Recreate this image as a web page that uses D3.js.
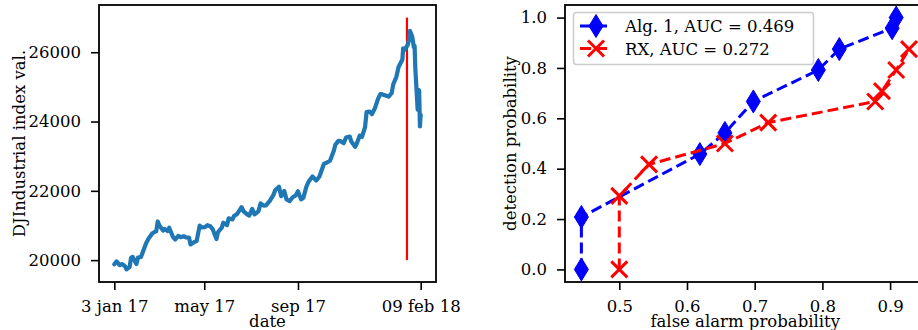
<!DOCTYPE html>
<html>
<head>
<meta charset="utf-8">
<script src="https://cdn.jsdelivr.net/npm/d3@7"></script>
<style>
body { margin: 0; background: #fff; }
text { font-family: "DejaVu Serif", serif; fill: #000; }
</style>
</head>
<body>
<div id="chart"></div>
<script>
//<------ data: left panel (DJI closes) ------>
var djiDates = [
  "2017-01-03","2017-01-06","2017-01-10","2017-01-13","2017-01-17","2017-01-19","2017-01-23","2017-01-25",
  "2017-01-27","2017-01-30","2017-02-01","2017-02-03","2017-02-07","2017-02-10","2017-02-14","2017-02-17",
  "2017-02-22","2017-02-27","2017-03-01","2017-03-03","2017-03-08","2017-03-10","2017-03-14","2017-03-16",
  "2017-03-21","2017-03-24","2017-03-28","2017-03-31","2017-04-04","2017-04-07","2017-04-11","2017-04-13",
  "2017-04-18","2017-04-21","2017-04-25","2017-04-28","2017-05-02","2017-05-05","2017-05-09","2017-05-12",
  "2017-05-17","2017-05-19","2017-05-24","2017-05-26","2017-05-31","2017-06-02","2017-06-07","2017-06-09",
  "2017-06-13","2017-06-19","2017-06-22","2017-06-27","2017-06-29","2017-07-03","2017-07-06","2017-07-11",
  "2017-07-14","2017-07-18","2017-07-21","2017-07-26","2017-07-31","2017-08-02","2017-08-07","2017-08-10",
  "2017-08-14","2017-08-17","2017-08-21","2017-08-25","2017-08-29","2017-09-01","2017-09-05","2017-09-08",
  "2017-09-12","2017-09-15","2017-09-20","2017-09-25","2017-09-29","2017-10-05","2017-10-10","2017-10-13",
  "2017-10-18","2017-10-20","2017-10-24","2017-10-27","2017-10-31","2017-11-03","2017-11-08","2017-11-10",
  "2017-11-15","2017-11-17","2017-11-21","2017-11-24","2017-11-28","2017-11-30","2017-12-04","2017-12-07",
  "2017-12-11","2017-12-15","2017-12-18","2017-12-21","2017-12-26","2017-12-29","2018-01-02","2018-01-04",
  "2018-01-08","2018-01-11","2018-01-16","2018-01-17","2018-01-19","2018-01-23","2018-01-25","2018-01-26",
  "2018-01-29","2018-01-31","2018-02-01","2018-02-02","2018-02-05","2018-02-06","2018-02-07","2018-02-08",
  "2018-02-09"
];
var djiValues = [
  19881, 19964, 19855, 19885, 19826, 19732, 19799, 20068,
  20093, 19971, 19890, 20071, 20090, 20269, 20504, 20624,
  20775, 20837, 21115, 21005, 20855, 20902, 20837, 20934,
  20668, 20596, 20701, 20663, 20689, 20656, 20651, 20453,
  20523, 20548, 20996, 20941, 20950, 21007, 20975, 20896,
  20606, 20804, 20937, 21080, 21009, 21206, 21173, 21272,
  21328, 21528, 21397, 21310, 21287, 21479, 21320, 21409,
  21638, 21574, 21580, 21711, 21891, 22016, 22118, 21844,
  21993, 21750, 21703, 21814, 21865, 21988, 21753, 21797,
  22118, 22268, 22412, 22297, 22405, 22775, 22830, 22871,
  23157, 23329, 23441, 23434, 23377, 23539, 23563, 23422,
  23271, 23358, 23590, 23558, 23836, 24272, 24290, 24212,
  24386, 24652, 24792, 24782, 24746, 24719, 24824, 25075,
  25283, 25574, 25792, 26115, 26071, 26210, 26392, 26616,
  26439, 26149, 26186, 25520, 24345, 24912, 24893, 23860,
  24190
];
var alarmDate = "2018-01-22";
var alarmSpan = [20000, 27000];
var djiTickDates = ["2017-01-03", "2017-05-01", "2017-09-01", "2018-02-09"];
var djiTickLabels = ["3 jan 17", "may 17", "sep 17", "09 feb 18"];
var djiYTicks = [20000, 22000, 24000, 26000];

//<------ data: right panel (ROC) ------>
var algFa = [0.444, 0.444, 0.619, 0.656, 0.698, 0.794, 0.825, 0.903, 0.909];
var algPd = [0.0, 0.208, 0.458, 0.542, 0.667, 0.792, 0.875, 0.958, 1.0];
var rxFa = [0.5, 0.5, 0.544, 0.656, 0.720, 0.878, 0.888, 0.909, 0.928];
var rxPd = [0.0, 0.292, 0.417, 0.5, 0.583, 0.667, 0.708, 0.792, 0.875];
var rocNames = ["Alg. 1, AUC = 0.469", "RX, AUC = 0.272"];
var rocXTicks = [0.5, 0.6, 0.7, 0.8, 0.9];
var rocYTicks = [0.0, 0.2, 0.4, 0.6, 0.8, 1.0];

var W = 918, H = 330;
var fontSize = 16.5;
var parse = d3.timeParse("%Y-%m-%d");

var svg = d3.select("#chart").append("svg")
    .attr("width", W)
    .attr("height", H);

// matplotlib style 5% padding
function pad(ext) {
    var d = ext[1] - ext[0];
    return [ext[0] - 0.05 * d, ext[1] + 0.05 * d];
}

function styleAxis(g) {
    g.select(".domain").remove();
    g.selectAll(".tick line").attr("stroke", "#000").attr("stroke-width", 1.6);
    g.selectAll(".tick text")
        .style("font-family", "DejaVu Serif")
        .style("font-size", fontSize + "px")
        .attr("fill", "#000");
}

//<------ left panel ------>
var L = {left: 99, right: 436, top: 5, bottom: 282};
var djiData = djiDates.map(function(d, i) { return {date: parse(d), value: djiValues[i]}; });

var t0 = d3.extent(djiData, function(d) { return +d.date; });
var tpad = pad(t0);
var x1 = d3.scaleTime()
    .domain([new Date(tpad[0]), new Date(tpad[1])])
    .range([L.left, L.right]);
var y1 = d3.scaleLinear()
    .domain(pad([d3.min(djiValues.concat(alarmSpan)), d3.max(djiValues.concat(alarmSpan))]))
    .range([L.bottom, L.top]);

var left = svg.append("g");

left.append("g")
    .attr("transform", "translate(" + L.left + ",0)")
    .call(d3.axisLeft(y1).tickValues(djiYTicks).tickSize(8).tickPadding(10).tickFormat(d3.format("d")))
    .call(styleAxis);

left.append("g")
    .attr("transform", "translate(0," + L.bottom + ")")
    .call(d3.axisBottom(x1).tickValues(djiTickDates.map(parse)).tickSize(8).tickPadding(10)
        .tickFormat(function(d, i) { return djiTickLabels[i]; }))
    .call(styleAxis);

var line1 = d3.line()
    .x(function(d) { return x1(d.date); })
    .y(function(d) { return y1(d.value); });

left.append("line")
    .attr("x1", x1(parse(alarmDate))).attr("x2", x1(parse(alarmDate)))
    .attr("y1", y1(alarmSpan[0])).attr("y2", y1(alarmSpan[1]))
    .attr("stroke", "#ff0000")
    .attr("stroke-width", 2.2);

left.append("path")
    .datum(djiData)
    .attr("d", line1)
    .attr("fill", "none")
    .attr("stroke", "#1f77b4")
    .attr("stroke-width", 4.2)
    .attr("stroke-linejoin", "round")
    .attr("stroke-linecap", "round");

left.append("rect")
    .attr("x", L.left).attr("y", L.top)
    .attr("width", L.right - L.left).attr("height", L.bottom - L.top)
    .attr("fill", "none").attr("stroke", "#000").attr("stroke-width", 1.8);

left.append("text")
    .attr("x", (L.left + L.right) / 2)
    .attr("y", 327)
    .attr("text-anchor", "middle")
    .style("font-size", fontSize + "px")
    .text("date");

left.append("text")
    .attr("transform", "translate(25," + (L.top + L.bottom) / 2 + ") rotate(-90)")
    .attr("text-anchor", "middle")
    .style("font-size", fontSize + "px")
    .text("DJIndustrial index val.");

//<------ right panel ------>
var R = {left: 565, top: 5, bottom: 282};
var xExt = pad(d3.extent(algFa.concat(rxFa)));
var x2 = d3.scaleLinear()
    .domain(xExt)
    .range([R.left, R.left + (xExt[1] - xExt[0]) * 677]);
R.right = x2(xExt[1]);
var y2 = d3.scaleLinear()
    .domain(pad([0, 1]))
    .range([R.bottom, R.top]);

var right = svg.append("g");

right.append("g")
    .attr("transform", "translate(" + R.left + ",0)")
    .call(d3.axisLeft(y2).tickValues(rocYTicks).tickSize(8).tickPadding(10).tickFormat(d3.format(".1f")))
    .call(styleAxis);

right.append("g")
    .attr("transform", "translate(0," + R.bottom + ")")
    .call(d3.axisBottom(x2).tickValues(rocXTicks).tickSize(8).tickPadding(10).tickFormat(d3.format(".1f")))
    .call(styleAxis);

var algData = algFa.map(function(v, i) { return [v, algPd[i]]; });
var rxData = rxFa.map(function(v, i) { return [v, rxPd[i]]; });

var line2 = d3.line()
    .x(function(d) { return x2(d[0]); })
    .y(function(d) { return y2(d[1]); });

var dash = "11,5";
var diamond = "M0,-11.5L7,0L0,11.5L-7,0Z";
var cross = "M-8,-8L8,8M-8,8L8,-8";

function drawSeries(g, data, color, shape, filled) {
    g.append("path")
        .datum(data)
        .attr("d", line2)
        .attr("fill", "none")
        .attr("stroke", color)
        .attr("stroke-width", 3)
        .attr("stroke-dasharray", dash)
        .attr("stroke-linejoin", "round");
    g.selectAll(null)
        .data(data)
        .enter().append("path")
        .attr("transform", function(d) { return "translate(" + x2(d[0]) + "," + y2(d[1]) + ")"; })
        .attr("d", shape)
        .attr("fill", filled ? color : "none")
        .attr("stroke", color)
        .attr("stroke-width", filled ? 1 : 3);
}

drawSeries(right, algData, "#0000ff", diamond, true);
drawSeries(right, rxData, "#ff0000", cross, false);

right.append("rect")
    .attr("x", R.left).attr("y", R.top)
    .attr("width", R.right - R.left).attr("height", R.bottom - R.top)
    .attr("fill", "none").attr("stroke", "#000").attr("stroke-width", 1.8);

// legend
var lg = right.append("g");
lg.append("rect")
    .attr("x", 573.5).attr("y", 12.5)
    .attr("width", 240).attr("height", 52)
    .attr("rx", 3)
    .attr("fill", "#fff").attr("fill-opacity", 0.8)
    .attr("stroke", "#cccccc").attr("stroke-width", 1.5);

var legendItems = [
    {name: rocNames[0], color: "#0000ff", shape: diamond, filled: true, y: 26},
    {name: rocNames[1], color: "#ff0000", shape: cross, filled: false, y: 48.5}
];
legendItems.forEach(function(it) {
    lg.append("line")
        .attr("x1", 580).attr("x2", 612)
        .attr("y1", it.y).attr("y2", it.y)
        .attr("stroke", it.color).attr("stroke-width", 3)
        .attr("stroke-dasharray", dash);
    lg.append("path")
        .attr("transform", "translate(596," + it.y + ")")
        .attr("d", it.shape)
        .attr("fill", it.filled ? it.color : "none")
        .attr("stroke", it.color)
        .attr("stroke-width", it.filled ? 1 : 3);
    lg.append("text")
        .attr("x", 625)
        .attr("y", it.y + 6)
        .style("font-size", fontSize + "px")
        .text(it.name);
});

right.append("text")
    .attr("x", (R.left + R.right) / 2)
    .attr("y", 327)
    .attr("text-anchor", "middle")
    .style("font-size", fontSize + "px")
    .text("false alarm probability");

right.append("text")
    .attr("transform", "translate(516," + (R.top + R.bottom) / 2 + ") rotate(-90)")
    .attr("text-anchor", "middle")
    .style("font-size", fontSize + "px")
    .text("detection probability");
</script>
</body>
</html>
